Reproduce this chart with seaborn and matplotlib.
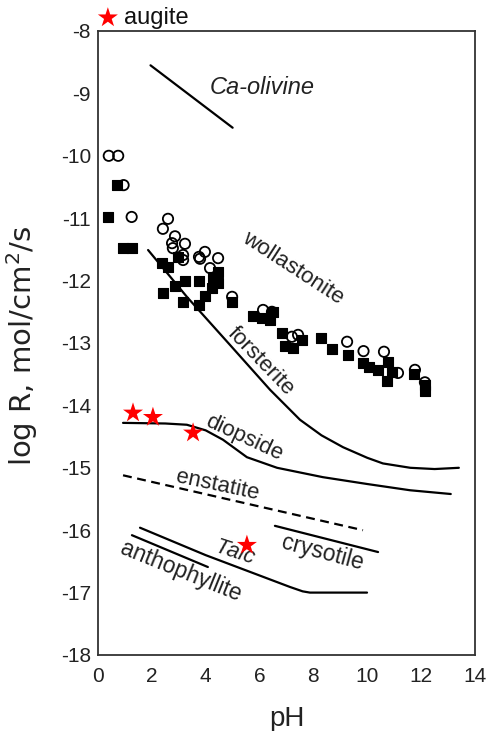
import numpy as np
import pandas as pd
import matplotlib
matplotlib.use("Agg")
import matplotlib.pyplot as plt
import seaborn as sns

# ---------------- data ----------------
circle_ph = [0.40, 0.75, 0.95, 1.25, 2.60, 2.41, 2.86, 2.75, 3.23, 2.78, 3.16, 3.16,
             3.75, 3.97, 3.79, 4.46, 4.16, 4.98, 6.13, 6.46, 7.20, 7.43, 9.25, 9.86,
             10.62, 11.14, 11.77, 12.14]
circle_logr = [-10.0, -10.0, -10.47, -10.98, -11.01, -11.17, -11.29, -11.40, -11.41, -11.48,
               -11.59, -11.67, -11.62, -11.54, -11.65, -11.64, -11.80, -12.26, -12.47, -12.50,
               -12.90, -12.87, -12.98, -13.13, -13.14, -13.48, -13.43, -13.63]

square_ph = [0.71, 0.37, 0.93, 1.26, 2.38, 2.60, 2.97, 2.41, 2.86, 3.23, 3.16, 3.75,
             3.97, 3.75, 4.23, 4.27, 4.46, 4.46, 4.98, 5.76, 6.09, 6.50, 6.39, 6.83,
             6.94, 7.24, 7.58, 8.28, 8.69, 9.28, 9.84, 10.06, 10.40, 10.77, 10.92, 10.73,
             11.73, 12.14, 12.14]
square_logr = [-10.47, -10.98, -11.48, -11.48, -11.72, -11.78, -11.62, -12.20, -12.09, -12.01,
               -12.34, -12.01, -12.25, -12.39, -12.12, -11.94, -11.86, -12.04, -12.34, -12.57,
               -12.60, -12.50, -12.63, -12.84, -13.05, -13.08, -12.95, -12.92, -13.10, -13.19,
               -13.32, -13.38, -13.43, -13.30, -13.46, -13.61, -13.50, -13.77, -13.67]

augite_ph = [1.30, 2.04, 3.53, 5.53]
augite_logr = [-14.12, -14.19, -14.44, -16.24]

ca_olivine_ph = [1.95, 5.0]
ca_olivine_logr = [-8.55, -9.55]

forsterite_ph = [1.86, 3.30, 4.90, 6.39, 7.50, 8.30, 9.10, 10.0, 10.58, 11.6, 12.5, 13.4]
forsterite_logr = [-11.51, -12.26, -13.03, -13.75, -14.23, -14.48, -14.67, -14.84, -14.93, -15.0, -15.02, -15.0]

diopside_ph = [0.93, 2.5, 3.30, 4.0, 4.64, 5.53, 6.65, 8.35, 10.0, 11.59, 13.1]
diopside_logr = [-14.28, -14.29, -14.31, -14.40, -14.55, -14.83, -15.0, -15.15, -15.26, -15.36, -15.42]

enstatite_ph = [0.93, 9.84]
enstatite_logr = [-15.12, -16.0]

crysotile_ph = [6.57, 10.4]
crysotile_logr = [-15.93, -16.35]

talc_ph = [1.56, 4.0, 7.13, 7.6, 7.87, 9.99]
talc_logr = [-15.96, -16.40, -16.91, -16.98, -17.0, -17.0]

anthophyllite_ph = [1.26, 4.08]
anthophyllite_logr = [-16.08, -16.59]

x_ticks = [0, 2, 4, 6, 8, 10, 12, 14]
y_ticks = [-18, -17, -16, -15, -14, -13, -12, -11, -10, -9, -8]

# ---------------- style ----------------
sns.set_theme(style="white")
plt.rcParams["font.family"] = ["Liberation Sans", "DejaVu Sans"]
plt.rcParams["mathtext.fontset"] = "custom"
plt.rcParams["mathtext.rm"] = "DejaVu Sans"

fig = plt.figure(figsize=(4.88, 7.31), dpi=100)
ax = fig.add_axes([98 / 488, 1 - 655 / 731, 377 / 488, 624 / 731])

lw = 1.6
curves = [
    (ca_olivine_ph, ca_olivine_logr, "-"),
    (forsterite_ph, forsterite_logr, "-"),
    (diopside_ph, diopside_logr, "-"),
    (enstatite_ph, enstatite_logr, (0, (4, 2.5))),
    (crysotile_ph, crysotile_logr, "-"),
    (talc_ph, talc_logr, "-"),
    (anthophyllite_ph, anthophyllite_logr, "-"),
]
for xs, ys, ls in curves:
    d = pd.DataFrame({"pH": xs, "logR": ys})
    sns.lineplot(data=d, x="pH", y="logR", ax=ax, sort=False, estimator=None,
                 color="black", lw=lw, linestyle=ls)

dc = pd.DataFrame({"pH": circle_ph, "logR": circle_logr})
sns.scatterplot(data=dc, x="pH", y="logR", ax=ax, marker="o", s=55,
                facecolor="none", edgecolor="black", linewidth=1.3, zorder=3)
ds = pd.DataFrame({"pH": square_ph, "logR": square_logr})
sns.scatterplot(data=ds, x="pH", y="logR", ax=ax, marker="s", s=45,
                color="black", edgecolor="black", linewidth=0.8, zorder=4)
da = pd.DataFrame({"pH": augite_ph, "logR": augite_logr})
sns.scatterplot(data=da, x="pH", y="logR", ax=ax, marker="*", s=230,
                color="red", edgecolor="none", zorder=5, label="augite")

leg = ax.legend(loc="center left", bbox_to_anchor=(-0.002, 1.021), frameon=False,
                borderpad=0, borderaxespad=0, handlelength=0.9, handletextpad=0.25,
                fontsize=17, markerscale=1.0)
for t in leg.get_texts():
    t.set_color("#111111")

# curve labels
labels = [
    ("Ca-olivine", 6.09, -8.91, 0, "italic", 17),
    ("wollastonite", 7.24, -11.80, -33, "normal", 16),
    ("forsterite", 6.05, -13.30, -46, "normal", 16),
    ("diopside", 5.42, -14.52, -25, "normal", 16),
    ("enstatite", 4.42, -15.28, -12, "normal", 16),
    ("Talc", 5.09, -16.37, -18, "italic", 16),
    ("crysotile", 8.34, -16.36, -15, "normal", 16.5),
    ("anthophyllite", 3.06, -16.66, -22, "normal", 16.5),
]
for t, x, y, r, st, fs in labels:
    ax.text(x, y, t, rotation=r, rotation_mode="anchor", ha="center", va="center",
            fontsize=fs, fontstyle=st, color="#222222")

ax.set_xlim(0, 14)
ax.set_ylim(-18, -8)
ax.set_xticks(x_ticks)
ax.set_yticks(y_ticks)
ax.set_xticklabels([str(v) for v in x_ticks])
ax.set_yticklabels([str(v) for v in y_ticks])
ax.tick_params(axis="both", direction="in", length=9, width=1.2, labelsize=15,
               colors="#222222", labelcolor="#222222")
ax.tick_params(axis="x", pad=9)
ax.tick_params(axis="y", pad=5)
for sp in ax.spines.values():
    sp.set_visible(True)
    sp.set_color("#333333")
    sp.set_linewidth(1.3)

ax.set_xlabel("pH", fontsize=20, color="#222222")
ax.set_ylabel("log R, mol/cm$^2$/s", fontsize=21, color="#222222",
              family=["DejaVu Sans"])
ax.xaxis.set_label_coords(0.5, -0.082)
ax.yaxis.set_label_coords(-0.153, 0.495)

fig.savefig("out.png", dpi=100, facecolor="white")
